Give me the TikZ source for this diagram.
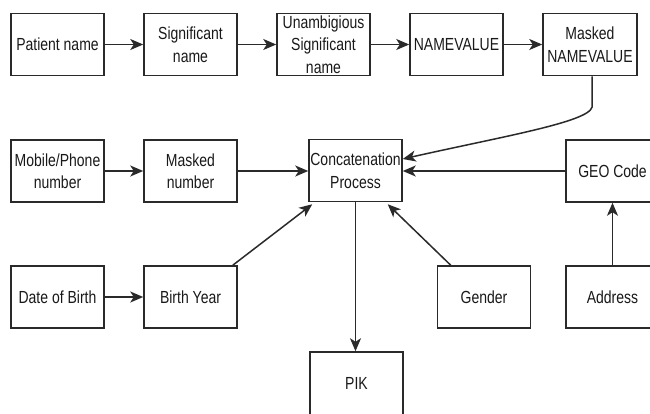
\documentclass[tikz,border=0pt]{standalone}
\usepackage{fontspec}
\setmainfont{Liberation Sans}[FakeStretch=0.8]
\usetikzlibrary{arrows.meta,calc}
\definecolor{ln}{HTML}{2a2a2a}
\tikzset{
  box/.style={draw=ln, line width=1.5pt, rectangle, minimum width=93pt, minimum height=62pt, inner sep=0pt, align=center, font=\fontsize{17.5}{22.5}\selectfont, text=black!90},
  arr/.style={draw=ln, line width=1.5pt, -{Stealth[length=13pt,width=11pt,inset=3.5pt]}},
  conn/.style={draw=ln, line width=1.5pt}
}
\begin{document}
\begin{tikzpicture}[x=1pt,y=-1pt]
\useasboundingbox (0,0) rectangle (650,413);
\clip (0,0) rectangle (650,413);
\node[box] (pn) at (57.5,44.5) {Patient name};
\node[box] (sn) at (190.5,44.5) {Significant\\name};
\node[box] (un) at (323.5,44.5) {Unambigious\\Significant\\name};
\node[box] (nv) at (456.5,44.5) {NAMEVALUE};
\node[box, minimum width=94pt] (mnv) at (590,44.5) {Masked\\NAMEVALUE};
\node[box] (mob) at (57.5,171) {Mobile/Phone\\number};
\node[box] (mn) at (190.5,171) {Masked\\number};
\node[box] (cc) at (355.5,170.5) {Concatenation\\Process};
\node[box] (geo) at (612.5,171) {GEO Code};
\node[box] (dob) at (57.5,297) {Date of Birth};
\node[box] (by) at (190.5,297) {Birth Year};
\node[box] (gen) at (484,297) {Gender};
\node[box] (addr) at (612.5,297) {Address};
\node[box, minimum height=63pt] (pik) at (356.5,383.5) {PIK};

\draw[arr] (pn) -- (sn);
\draw[arr] (sn) -- (un);
\draw[arr] (un) -- (nv);
\draw[arr] (nv) -- (mnv);
\coordinate (bend) at ([xshift=2pt,yshift=-31pt]mnv.south);
\draw[arr] ([xshift=2pt]mnv.south) -- (bend) .. controls +(-4,15) and (500,137) .. ([yshift=11.5pt]cc.east);
\draw[arr] (geo.west) -- (geo.west -| cc.east);
\draw[arr] (mob) -- (mn);
\draw[arr] (mn.east) -- (mn.east -| cc.west);
\draw[arr] (dob) -- (by);
\draw[arr] ([xshift=-5pt]by.north east) -- ([xshift=4pt,yshift=-2pt]cc.south west);
\draw[arr] ([xshift=14pt]gen.north west) -- ([xshift=-15pt,yshift=-2pt]cc.south east);
\draw[arr] (cc.south) -- (cc.south |- pik.north);
\draw[arr] (addr.north) -- (geo.south);
\end{tikzpicture}
\end{document}
